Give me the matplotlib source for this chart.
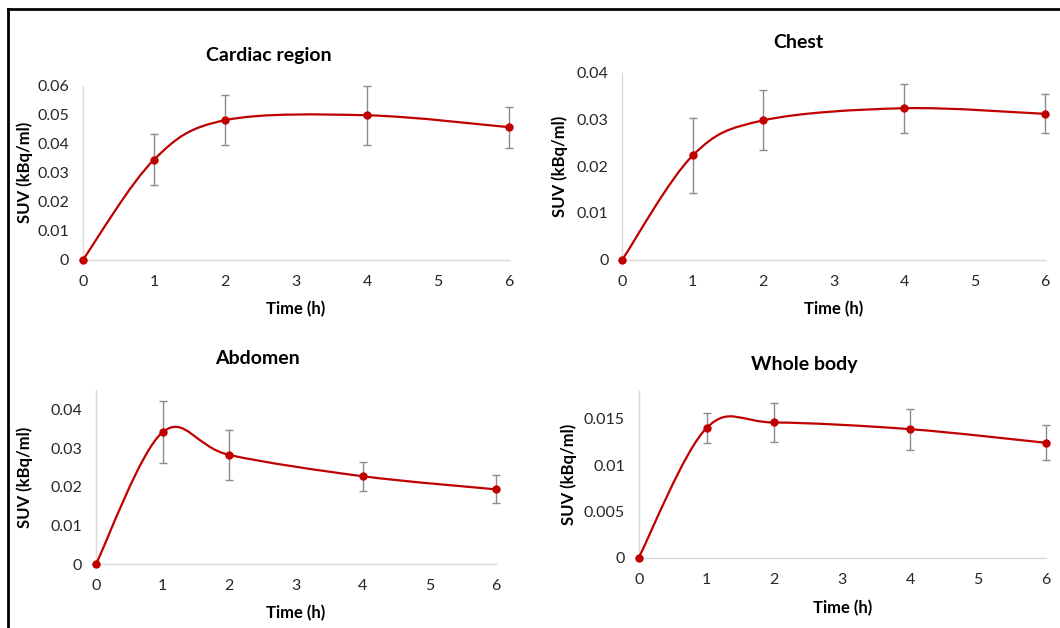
import numpy as np
import matplotlib
matplotlib.use("Agg")
import matplotlib.pyplot as plt
from matplotlib.path import Path
from matplotlib.patches import PathPatch
from matplotlib.lines import Line2D
from matplotlib.ticker import FuncFormatter

# === Data ===
time_h = [0, 1, 2, 4, 6]

cardiac_suv = [0, 0.0345, 0.0481, 0.0498, 0.0457]
cardiac_err = [0, 0.0089, 0.0087, 0.0102, 0.0071]

chest_suv = [0, 0.0223, 0.0298, 0.0324, 0.0312]
chest_err = [0, 0.0080, 0.0064, 0.0052, 0.0042]

abdomen_suv = [0, 0.0341, 0.0282, 0.0227, 0.0193]
abdomen_err = [0, 0.0080, 0.0065, 0.0038, 0.0036]

whole_suv = [0, 0.0140, 0.0146, 0.01388, 0.01241]
whole_err = [0, 0.0016, 0.0021, 0.0022, 0.0019]

titles = ["Cardiac region", "Chest", "Abdomen", "Whole body"]

# === Style ===
line_color = "#C00000"
err_color = "#8C8C8C"
spine_color = "#D9D9D9"
plt.rcParams['font.family'] = ['Lato', 'DejaVu Sans']


def smooth_path(x, y):
    # Excel-like smoothed line: cubic Bezier through the points
    pts = np.column_stack([x, y]).astype(float)
    n = len(pts)
    verts = [pts[0]]
    codes = [Path.MOVETO]
    for i in range(n - 1):
        p0 = pts[i - 1] if i > 0 else pts[i]
        p1 = pts[i]
        p2 = pts[i + 1]
        p3 = pts[i + 2] if i + 2 < n else pts[i + 1]
        c1 = p1 + (p2 - p0) / 6.0
        c2 = p2 - (p3 - p1) / 6.0
        verts += [c1, c2, p2]
        codes += [Path.CURVE4] * 3
    return Path(verts, codes)


def fmt_general(v, pos):
    if abs(v) < 1e-12:
        return "0"
    return ("%.4f" % v).rstrip("0").rstrip(".")


def draw_panel(ax, suv, err, ymax, ystep, ylab_x, xlab_y):
    ax.errorbar(time_h, suv, yerr=err, fmt="none", ecolor=err_color,
                elinewidth=1.0, capsize=3, capthick=1.0, zorder=2, clip_on=False)
    patch = PathPatch(smooth_path(time_h, suv), facecolor="none",
                      edgecolor=line_color, linewidth=1.6, zorder=3, clip_on=False)
    ax.add_patch(patch)
    ax.plot(time_h, suv, "o", color=line_color, markersize=5, zorder=4, clip_on=False)

    ax.set_xticks(range(0, 7))
    ax.set_yticks(np.arange(0, ymax + 1e-9, ystep))
    ax.yaxis.set_major_formatter(FuncFormatter(fmt_general))
    ax.set_xlim(0, 6)
    ax.set_ylim(0, ymax)
    ax.tick_params(length=0, labelsize=11.5, colors="#262626")
    ax.tick_params(axis="y", pad=10)
    ax.tick_params(axis="x", pad=11)
    for s in ["top", "right"]:
        ax.spines[s].set_visible(False)
    for s in ["left", "bottom"]:
        ax.spines[s].set_color(spine_color)
        ax.spines[s].set_linewidth(1.0)

    ax.set_ylabel("SUV (kBq/ml)", fontsize=12, fontweight="bold")
    ax.set_xlabel("Time (h)", fontsize=12, fontweight="bold")
    ax.yaxis.set_label_coords(ylab_x, 0.5)
    ax.xaxis.set_label_coords(0.5, xlab_y)


W, H = 1060, 628
fig = plt.figure(figsize=(W / 100, H / 100), dpi=100)


def px_axes(x0, x1, ytop, ybot):
    return fig.add_axes([x0 / W, 1 - ybot / H, (x1 - x0) / W, (ybot - ytop) / H])


ax1 = px_axes(83, 509, 85.7, 259.7)
ax2 = px_axes(622.3, 1045, 72.7, 259.7)
ax3 = px_axes(96, 496, 390, 564)
ax4 = px_axes(638.7, 1045.7, 391, 557.7)

draw_panel(ax1, cardiac_suv, cardiac_err, 0.06, 0.01, -0.117, -0.237)
draw_panel(ax2, chest_suv, chest_err, 0.04, 0.01, -0.128, -0.221)
draw_panel(ax3, abdomen_suv, abdomen_err, 0.045, 0.01, -0.157, -0.236)
ax3.set_yticks(np.arange(0, 0.041, 0.01))
ax3.set_ylim(0, 0.045)
draw_panel(ax4, whole_suv, whole_err, 0.018, 0.005, -0.152, -0.254)

# panel titles, centred over each chart area
title_pos = [(269.3, 60.5), (798.8, 48.3), (257, 364.3), (804.7, 370)]
for t, (tx, ty) in zip(titles, title_pos):
    fig.text(tx / W, 1 - ty / H, t, ha="center", va="baseline",
             fontsize=14, fontweight="bold", color="black")

# frame lines (left and top edge of the picture)
fig.add_artist(Line2D([7.5 / W, 7.5 / W], [0, 1 - 9 / H], transform=fig.transFigure,
                      color="black", linewidth=2))
fig.add_artist(Line2D([7.5 / W, 1], [1 - 9 / H, 1 - 9 / H], transform=fig.transFigure,
                      color="black", linewidth=2))

fig.savefig("out.png", dpi=100)
